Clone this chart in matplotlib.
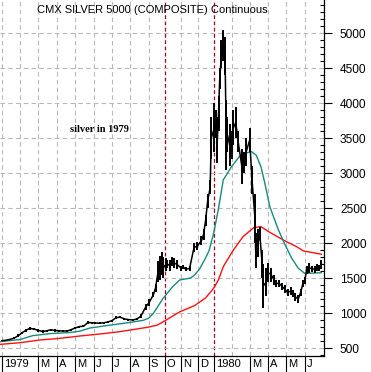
import numpy as np
import pandas as pd
import matplotlib
matplotlib.use('Agg')
import matplotlib.pyplot as plt
import matplotlib.dates as mdates
from matplotlib.ticker import MultipleLocator

plt.rcParams['font.family'] = ['Liberation Sans', 'DejaVu Sans']

# silver futures, cents per ounce (approx. high/low)
price_dates = [
    '1979-01-02', '1979-01-08', '1979-01-15', '1979-01-22', '1979-01-29', '1979-02-04',
    '1979-02-10', '1979-02-16', '1979-02-23', '1979-03-01', '1979-03-08', '1979-03-15',
    '1979-03-22', '1979-03-29', '1979-04-04', '1979-04-11', '1979-04-18', '1979-04-24',
    '1979-05-01', '1979-05-08', '1979-05-15', '1979-05-23', '1979-05-29', '1979-06-04',
    '1979-06-11', '1979-06-18', '1979-06-24', '1979-07-01', '1979-07-08', '1979-07-15',
    '1979-07-22', '1979-07-29', '1979-08-05', '1979-08-12', '1979-08-19', '1979-08-27',
    '1979-09-02', '1979-09-10', '1979-09-14', '1979-09-19', '1979-09-22', '1979-09-26',
    '1979-09-29', '1979-10-03', '1979-10-06', '1979-10-11', '1979-10-14', '1979-10-18',
    '1979-10-24', '1979-11-01', '1979-11-05', '1979-11-09', '1979-11-16', '1979-11-24',
    '1979-11-30', '1979-12-08', '1979-12-12', '1979-12-16', '1979-12-20', '1979-12-25',
    '1979-12-27', '1980-01-02', '1980-01-04', '1980-01-07', '1980-01-09', '1980-01-11',
    '1980-01-14', '1980-01-17', '1980-01-20', '1980-01-22', '1980-01-24', '1980-01-28',
    '1980-01-31', '1980-02-03', '1980-02-07', '1980-02-11', '1980-02-17', '1980-02-20',
    '1980-02-24', '1980-03-01', '1980-03-05', '1980-03-10', '1980-03-11', '1980-03-15',
    '1980-03-18', '1980-03-22', '1980-03-24', '1980-03-29', '1980-04-01', '1980-04-06',
    '1980-04-11', '1980-04-14', '1980-04-19', '1980-04-24', '1980-04-28', '1980-05-03',
    '1980-05-08', '1980-05-12', '1980-05-16', '1980-05-21', '1980-05-25', '1980-05-29',
    '1980-06-01', '1980-06-04', '1980-06-08', '1980-06-13', '1980-06-18', '1980-06-21',
    '1980-06-25', '1980-06-28',
]
price_low = [
    600, 605, 615, 630, 660, 700, 740, 765, 755, 740, 725, 735,
    750, 740, 735, 735, 735, 750, 775, 795, 800, 850, 850, 850,
    845, 850, 860, 880, 920, 930, 905, 895, 890, 900, 935, 1050,
    1110, 1230, 1300, 1450, 1480, 1550, 1500, 1600, 1650, 1600, 1680, 1650,
    1640, 1610, 1630, 1600, 1610, 1880, 1900, 1980, 2050, 2250, 2500, 2700,
    3200, 3300, 3500, 3150, 3600, 4200, 4500, 4600, 4400, 3050, 3300, 3100,
    3200, 3400, 3500, 3300, 2850, 3000, 3100, 3300, 2700, 2000, 1650, 1800,
    2050, 1500, 1080, 1250, 1450, 1450, 1400, 1380, 1380, 1330, 1290, 1250,
    1260, 1230, 1180, 1150, 1250, 1380, 1420, 1560, 1580, 1590, 1580, 1600,
    1600, 1640,
]
price_high = [
    620, 625, 640, 660, 700, 740, 775, 805, 790, 770, 755, 765,
    780, 770, 765, 760, 760, 780, 805, 825, 830, 890, 880, 875,
    870, 880, 890, 910, 955, 960, 935, 925, 920, 935, 985, 1130,
    1200, 1300, 1420, 1750, 1820, 1880, 1800, 1790, 1760, 1760, 1800, 1790,
    1760, 1680, 1690, 1660, 1670, 2000, 2020, 2100, 2200, 2400, 2700, 2900,
    3800, 4000, 3900, 3800, 4100, 4500, 4900, 5050, 4950, 4050, 3800, 3700,
    3600, 3900, 3950, 3600, 3350, 3300, 3500, 3650, 3100, 2700, 2150, 2200,
    2240, 1900, 1700, 1650, 1720, 1650, 1550, 1480, 1470, 1440, 1400, 1350,
    1370, 1330, 1290, 1260, 1350, 1480, 1520, 1680, 1720, 1680, 1680, 1700,
    1690, 1760,
]

# teal (short) moving average
fast_dates = [
    '1978-12-29', '1979-01-15', '1979-02-01', '1979-02-20', '1979-03-20', '1979-04-22',
    '1979-05-09', '1979-05-26', '1979-06-27', '1979-08-01', '1979-08-23', '1979-09-01',
    '1979-09-10', '1979-09-28', '1979-10-16', '1979-10-29', '1979-11-18', '1979-11-25',
    '1979-12-04', '1979-12-16', '1979-12-23', '1980-01-01', '1980-01-09', '1980-01-17',
    '1980-01-31', '1980-02-13', '1980-02-22', '1980-03-04', '1980-03-12', '1980-03-20',
    '1980-03-26', '1980-04-04', '1980-04-18', '1980-04-29', '1980-05-10', '1980-05-21',
    '1980-06-01', '1980-06-17', '1980-06-28',
]
fast_values = [
    595, 610, 625, 680, 710, 725,
    745, 790, 830, 870, 900, 930,
    1000, 1210, 1380, 1475, 1505, 1547,
    1630, 1790, 1900, 2150, 2500, 2905,
    3095, 3240, 3285, 3310, 3260, 3095,
    2880, 2520, 2190, 1975, 1786, 1643,
    1570, 1575, 1580,
]

# red (long) moving average
slow_dates = [
    '1978-12-29', '1979-02-01', '1979-03-03', '1979-04-06', '1979-05-09', '1979-06-11',
    '1979-07-14', '1979-08-30', '1979-09-17', '1979-10-01', '1979-10-29', '1979-11-25',
    '1979-12-16', '1980-01-01', '1980-01-09', '1980-01-17', '1980-02-03', '1980-02-19',
    '1980-03-08', '1980-03-20', '1980-04-02', '1980-04-26', '1980-05-18', '1980-05-30',
    '1980-06-15', '1980-06-28',
]
slow_values = [
    556, 580, 618, 642, 676, 704,
    737, 800, 830, 890, 1020, 1110,
    1220, 1360, 1480, 1666, 1904, 2095,
    2225, 2238, 2166, 2047, 1952, 1890,
    1866, 1843,
]

# chart x axis counts trading sessions, not calendar days
sessions_per_month = [22, 22, 22, 22, 22, 22, 22, 22, 19, 20, 20, 19,
                      22, 21, 22, 22, 22, 22]
y_ticks = list(range(500, 5001, 500))
month_letters = ['J', 'F', 'M', 'A', 'M', 'J', 'J', 'A', 'S', 'O', 'N', 'D']
event_dates = ['1979-10-01', '1980-01-01']

month_starts = pd.date_range('1979-01-01', periods=len(sessions_per_month) + 1, freq='MS')
session_at_month = np.concatenate([[0], np.cumsum(sessions_per_month)])
knots = mdates.date2num(month_starts)


def to_session(dates):
    t = mdates.date2num(pd.to_datetime(dates))
    s = np.interp(t, knots, session_at_month)
    first_rate = sessions_per_month[0] / (knots[1] - knots[0])
    return np.where(t < knots[0], (t - knots[0]) * first_rate, s)


fig = plt.figure(figsize=(3.71, 3.72), dpi=100)
ax = fig.add_axes([0, 16 / 372, 324 / 371, 356 / 372])

months = month_starts[:-1]
month_x = session_at_month[:-1]
event_x = to_session(event_dates)
for mx in month_x:
    if np.any(np.isclose(event_x, mx)):
        ax.axvline(mx, color='#a0001c', lw=0.9, ls=(0, (3, 2)), zorder=1)
    else:
        ax.axvline(mx, color='#b8b8b8', lw=0.8, ls=(0, (4, 3)), zorder=1)
for y in y_ticks:
    ax.axhline(y, color='#b8b8b8', lw=0.8, ls=(0, (4, 3)), zorder=1)

ax.plot(to_session(slow_dates), slow_values, color='#ff1010', lw=1.0, zorder=3)
ax.plot(to_session(fast_dates), fast_values, color='#178a7c', lw=1.0, zorder=3)

px = to_session(price_dates)
mid = (np.array(price_low) + np.array(price_high)) / 2
ax.vlines(px, price_low, price_high, color='black', lw=1.4, zorder=4)
ax.plot(px, mid, color='black', lw=1.1, zorder=4)

ax.set_xlim(-2, 386)
ax.set_ylim(390, 5476)

# y axis on the right
ax.yaxis.tick_right()
ax.set_yticks(y_ticks)
ax.yaxis.set_minor_locator(MultipleLocator(100))
ax.tick_params(axis='y', which='major', direction='out', length=5.5, width=0.8,
               labelsize=8.6, pad=6, colors='black')
ax.tick_params(axis='y', which='minor', direction='in', length=3, width=0.8)

# month separators below the plot
tick_idx = [i for i, m in enumerate(months) if m.month != 2]
ax.set_xticks(month_x[tick_idx])
ax.set_xticklabels([])
ax.tick_params(axis='x', which='major', direction='out', length=12, width=0.8)
for i in tick_idx:
    m = months[i]
    label = str(m.year) if m.month == 1 else month_letters[m.month - 1]
    ax.annotate(label, xy=(month_x[i], 0), xycoords=('data', 'axes fraction'),
                xytext=(1.5, -6), textcoords='offset points',
                ha='left', va='center', fontsize=8)

for side in ['left', 'top']:
    ax.spines[side].set_visible(False)
for side in ['right', 'bottom']:
    ax.spines[side].set_linewidth(0.9)

fig.text(37 / 371, 1 - 10 / 372, 'CMX SILVER 5000 (COMPOSITE) Continuous',
         ha='left', va='center', fontsize=8)
fig.text(70 / 371, 1 - 130 / 372, 'silver in 1979', family='Liberation Serif',
         fontweight='bold', ha='left', va='center', fontsize=7.5)

fig.savefig('out.png', dpi=100)
